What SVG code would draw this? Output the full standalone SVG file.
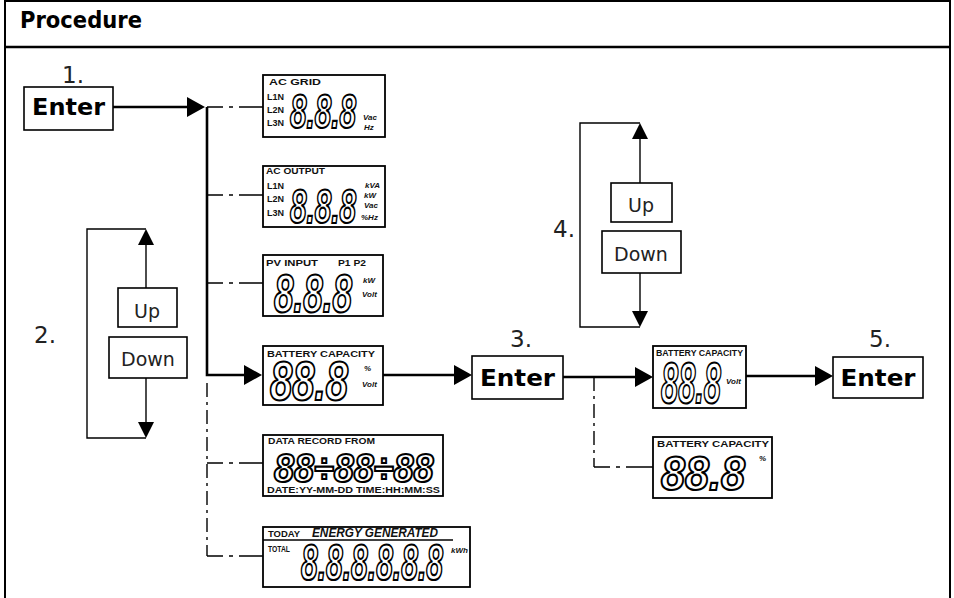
<svg xmlns="http://www.w3.org/2000/svg" width="954" height="598" viewBox="0 0 954 598">
<defs>
<marker id="ah" markerUnits="userSpaceOnUse" markerWidth="18" markerHeight="20" refX="15" refY="10" orient="auto">
<path d="M0,0 L18,10 L0,20 z" fill="#000"/>
</marker>
<marker id="ahs" markerUnits="userSpaceOnUse" markerWidth="16" markerHeight="16" refX="14" refY="8" orient="auto">
<path d="M0,0 L16,8 L0,16 z" fill="#000"/>
</marker>
</defs>
<style>
.frame{fill:none;stroke:#000;stroke-width:2}
.btn{fill:#fff;stroke:#000;stroke-width:1.6}
.lcd{fill:#fff;stroke:#000;stroke-width:1.8}
.enter{font-family:"DejaVu Sans",Verdana,sans-serif;font-weight:bold;font-size:23px;fill:#000;text-anchor:middle}
.num{font-family:"DejaVu Sans",Verdana,sans-serif;font-size:23px;fill:#222}
.ud{font-family:"DejaVu Sans",Verdana,sans-serif;font-size:19px;fill:#222;text-anchor:middle}
.lab{font-family:"Liberation Sans",Arial,sans-serif;font-weight:bold;font-size:9px;fill:#111}
.unit{font-family:"Liberation Sans",Arial,sans-serif;font-weight:bold;font-style:italic;font-size:8px;fill:#111}
.dig{font-family:"Liberation Sans",Arial,sans-serif;font-weight:bold;font-style:italic;fill:#fff;stroke:#000;stroke-width:2.2}
.thick{fill:none;stroke:#000;stroke-width:2.6}
.thin{fill:none;stroke:#000;stroke-width:1.4}
.dd{fill:none;stroke:#000;stroke-width:1.4;stroke-dasharray:16 6 4 6 40}
.ddv{fill:none;stroke:#000;stroke-width:1.4;stroke-dasharray:14 5 3 5}
</style>
<rect width="954" height="598" fill="#fff"/>
<g id="frame">
<rect class="frame" x="5" y="1" width="945" height="640"/>
<line x1="5" y1="47" x2="950" y2="47" stroke="#000" stroke-width="2.6"/>
<text x="20" y="28" font-family="DejaVu Sans,Verdana,sans-serif" font-weight="bold" font-size="23" textLength="122" lengthAdjust="spacingAndGlyphs">Procedure</text>
</g>
<g id="connectors">
<line class="thick" x1="113" y1="107" x2="202" y2="107" marker-end="url(#ah)"/>
<path class="thick" d="M207,107 V375 H259" marker-end="url(#ah)"/>
<line class="dd" x1="207" y1="107" x2="263" y2="107"/>
<line class="dd" x1="207" y1="195" x2="263" y2="195"/>
<line class="dd" x1="207" y1="283" x2="263" y2="283"/>
<line class="ddv" x1="207" y1="383" x2="207" y2="556"/>
<line class="dd" x1="207" y1="463" x2="263" y2="463"/>
<line class="dd" x1="207" y1="556" x2="263" y2="556"/>
<line class="thick" x1="383" y1="375" x2="469" y2="375" marker-end="url(#ah)"/>
<line class="thick" x1="563" y1="377" x2="650" y2="377" marker-end="url(#ah)"/>
<line class="ddv" x1="594" y1="377" x2="594" y2="467"/>
<line class="dd" x1="594" y1="467" x2="653" y2="467"/>
<line class="thick" x1="746" y1="376" x2="830" y2="376" marker-end="url(#ah)"/>
<line class="thin" x1="146" y1="288" x2="146" y2="231" marker-end="url(#ahs)"/>
<path class="thin" d="M146,229 H87 V438 H146"/>
<line class="thin" x1="146" y1="378" x2="146" y2="436" marker-end="url(#ahs)"/>
<line class="thin" x1="640" y1="183" x2="640" y2="125" marker-end="url(#ahs)"/>
<path class="thin" d="M640,123 H580 V327 H640"/>
<line class="thin" x1="640" y1="273" x2="640" y2="325" marker-end="url(#ahs)"/>
</g>
<g id="enter1">
<text class="num" x="62" y="83">1.</text>
<rect class="btn" x="24" y="87" width="89" height="43"/>
<text class="enter" x="68.5" y="115" textLength="73" lengthAdjust="spacingAndGlyphs">Enter</text>
</g>
<g id="step2">
<text class="num" x="34" y="343">2.</text>
<rect class="btn" x="118" y="288" width="59" height="39"/>
<text class="ud" x="147" y="318">Up</text>
<rect class="btn" x="109" y="337" width="78" height="41"/>
<text class="ud" x="148" y="366">Down</text>
</g>
<g id="lcd-acgrid">
<rect class="lcd" x="263" y="75" width="122" height="62"/>
<text class="lab" x="269" y="85" textLength="52" lengthAdjust="spacingAndGlyphs">AC GRID</text>
<text class="lab" x="267" y="100">L1N</text>
<text class="lab" x="267" y="113">L2N</text>
<text class="lab" x="267" y="126">L3N</text>
<text class="dig" transform="translate(290,128) scale(0.606,1)" font-size="49">8.8.8</text>
<text class="unit" x="363" y="120">Vac</text>
<text class="unit" x="364" y="130">Hz</text>
</g>
<g id="lcd-acoutput">
<rect class="lcd" x="263" y="166" width="122" height="61"/>
<text class="lab" x="266" y="174" textLength="59" lengthAdjust="spacingAndGlyphs">AC OUTPUT</text>
<text class="lab" x="267" y="189">L1N</text>
<text class="lab" x="267" y="202">L2N</text>
<text class="lab" x="267" y="216">L3N</text>
<text class="dig" transform="translate(290,223) scale(0.606,1)" font-size="49">8.8.8</text>
<text class="unit" x="365" y="188">kVA</text>
<text class="unit" x="364" y="198">kW</text>
<text class="unit" x="364" y="208">Vac</text>
<text class="unit" x="361" y="220">%Hz</text>
</g>
<g id="lcd-pvinput">
<rect class="lcd" x="263" y="255" width="120" height="61"/>
<text class="lab" x="266" y="266" textLength="52" lengthAdjust="spacingAndGlyphs">PV INPUT</text>
<text class="lab" x="338" y="266" textLength="28" lengthAdjust="spacingAndGlyphs">P1 P2</text>
<text class="dig" transform="translate(274,312) scale(0.65,1)" font-size="54">8.8.8</text>
<text class="unit" x="363" y="283">kW</text>
<text class="unit" x="362" y="297">Volt</text>
</g>
<g id="lcd-battery">
<rect class="lcd" x="263" y="346" width="120" height="59"/>
<text class="lab" x="267" y="357" textLength="108" lengthAdjust="spacingAndGlyphs">BATTERY CAPACITY</text>
<text class="dig" transform="translate(270,400) scale(0.729,1)" font-size="55">88.8</text>
<text class="unit" x="364" y="371">%</text>
<text class="unit" x="362" y="387">Volt</text>
</g>
<g id="lcd-datarecord">
<rect class="lcd" x="263" y="435" width="180" height="61"/>
<text class="lab" x="268" y="444" textLength="107" lengthAdjust="spacingAndGlyphs">DATA RECORD FROM</text>
<text class="dig" transform="translate(274,482) scale(0.877,1)" font-size="41">88÷88÷88</text>
<text class="lab" x="267" y="493" font-size="8" textLength="173" lengthAdjust="spacingAndGlyphs">DATE:YY-MM-DD  TIME:HH:MM:SS</text>
</g>
<g id="lcd-energy">
<rect class="lcd" x="263" y="527" width="207" height="60"/>
<text class="lab" x="268" y="537" textLength="32" lengthAdjust="spacingAndGlyphs">TODAY</text>
<text x="312" y="537" font-family="Liberation Sans,Arial,sans-serif" font-weight="bold" font-style="italic" font-size="12" fill="#111" textLength="126" lengthAdjust="spacingAndGlyphs">ENERGY GENERATED</text>
<line x1="263" y1="540" x2="453" y2="540" stroke="#000" stroke-width="1.5"/>
<text class="lab" x="268" y="552" textLength="22" lengthAdjust="spacingAndGlyphs">TOTAL</text>
<text class="dig" transform="translate(301,580) scale(0.601,1)" font-size="50">8.8.8.8.8.8</text>
<text class="unit" x="451" y="553">kWh</text>
</g>
<g id="enter3">
<text class="num" x="510" y="347">3.</text>
<rect class="btn" x="472" y="356" width="91" height="43"/>
<text class="enter" x="517.5" y="386" textLength="75" lengthAdjust="spacingAndGlyphs">Enter</text>
</g>
<g id="step4">
<text class="num" x="553" y="237">4.</text>
<rect class="btn" x="611" y="183" width="61" height="39"/>
<text class="ud" x="641" y="212">Up</text>
<rect class="btn" x="602" y="231" width="79" height="42"/>
<text class="ud" x="641" y="261">Down</text>
</g>
<g id="lcd-battery-volt">
<rect class="lcd" x="653" y="346" width="93" height="62"/>
<text class="lab" x="656" y="356" textLength="87" lengthAdjust="spacingAndGlyphs">BATTERY CAPACITY</text>
<text class="dig" transform="translate(661,403) scale(0.541,1)" font-size="57">88.8</text>
<text class="unit" x="726" y="384" font-size="7">Volt</text>
</g>
<g id="lcd-battery-pct">
<rect class="lcd" x="653" y="437" width="119" height="61"/>
<text class="lab" x="657" y="447" textLength="112" lengthAdjust="spacingAndGlyphs">BATTERY CAPACITY</text>
<text class="dig" transform="translate(661,490) scale(0.881,1)" font-size="49">88.8</text>
<text class="unit" x="759" y="461" font-size="10">%</text>
</g>
<g id="enter5">
<text class="num" x="869" y="347">5.</text>
<rect class="btn" x="833" y="357" width="90" height="41"/>
<text class="enter" x="878" y="386" textLength="75" lengthAdjust="spacingAndGlyphs">Enter</text>
</g>
</svg>
